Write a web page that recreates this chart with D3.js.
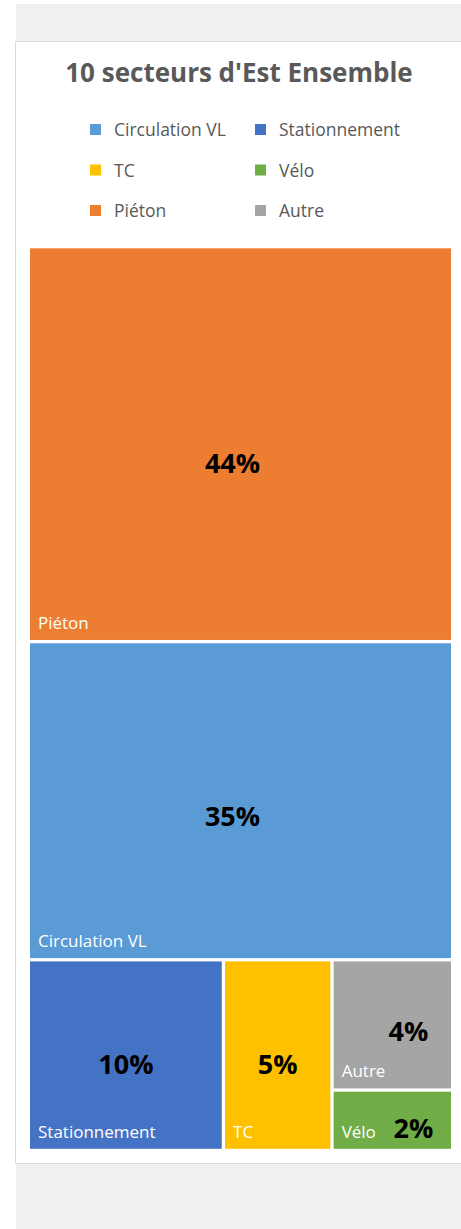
<!DOCTYPE html>
<html>
<head>
<meta charset="utf-8">
<script src="https://cdn.jsdelivr.net/npm/d3@7"></script>
<style>
  body { margin: 0; background: #fff; }
  text { font-family: "Open Sans", sans-serif; }
</style>
</head>
<body>
<div id="chart"></div>
<script>
// data (share of remarks, %)
var categories = ['Circulation VL', 'Stationnement', 'TC', 'Vélo', 'Piéton', 'Autre'];
var values = [35.2, 9.7, 5.4, 1.9, 43.7, 4.1];
var colors = ['#5B9BD5', '#4472C4', '#FFC000', '#70AD47', '#ED7D31', '#A5A5A5'];
var title = "10 secteurs d'Est Ensemble";

var width = 461;
var height = 1229;

var svg = d3.select('#chart')
    .append('svg')
    .attr('width', width)
    .attr('height', height);

// grey page bands + chart frame
svg.append('rect')
    .attr('x', 16).attr('y', 4)
    .attr('width', width - 16).attr('height', 37)
    .attr('fill', '#f0f0f0');
svg.append('rect')
    .attr('x', 16).attr('y', 1164)
    .attr('width', width - 16).attr('height', height - 1164)
    .attr('fill', '#f0f0f0');
svg.append('rect')
    .attr('x', 15.5).attr('y', 41.5)
    .attr('width', width).attr('height', 1122)
    .attr('fill', '#fff')
    .attr('stroke', '#d9d9d9');

// title
svg.append('text')
    .attr('x', 239)
    .attr('y', 82)
    .attr('text-anchor', 'middle')
    .attr('font-size', 26)
    .attr('font-weight', 'bold')
    .attr('fill', '#595959')
    .text(title);

// legend (2 columns)
var legend = svg.append('g').selectAll('g')
    .data(categories)
    .enter()
    .append('g')
    .attr('transform', function(d, i) {
      return 'translate(' + (i % 2 === 0 ? 90 : 255) + ',' + (130 + Math.floor(i / 2) * 40.5) + ')';
    });
legend.append('rect')
    .attr('x', 0)
    .attr('y', -6)
    .attr('width', 11)
    .attr('height', 11)
    .attr('fill', function(d, i) { return colors[i]; });
legend.append('text')
    .attr('x', 24)
    .attr('y', 6)
    .attr('font-size', 17.5)
    .attr('fill', '#595959')
    .text(function(d) { return d; });

// treemap
var items = categories.map(function(c, i) {
  return { name: c, value: values[i], color: colors[i] };
});
var root = d3.hierarchy({ children: items })
    .sum(function(d) { return d.value || 0; })
    .sort(function(a, b) { return b.value - a.value; });

d3.treemap()
    .size([421, 900.5])
    .paddingInner(3.3)
    .tile(d3.treemapSquarify.ratio(1))(root);

var tm = svg.append('g')
    .attr('transform', 'translate(30,248.3)');

var cell = tm.selectAll('g')
    .data(root.leaves())
    .enter()
    .append('g');

cell.append('rect')
    .attr('x', function(d) { return d.x0; })
    .attr('y', function(d) { return d.y0; })
    .attr('width', function(d) { return d.x1 - d.x0; })
    .attr('height', function(d) { return d.y1 - d.y0; })
    .attr('fill', function(d) { return d.data.color; });

// category name, bottom left
cell.append('text')
    .attr('x', function(d) { return d.x0 + 8; })
    .attr('y', function(d) { return d.y1 - 11; })
    .attr('font-size', 17)
    .attr('fill', '#fff')
    .text(function(d) { return d.data.name; });

// percentage
cell.append('text')
    .attr('x', function(d) {
      var w = d.x1 - d.x0, h = d.y1 - d.y0;
      if (h < 80) return d.x0 + w * 0.68;
      return d.x0 + w / 2 + (w < 150 && h < 150 ? 16 : 0) - (w > 400 ? 8 : 0);
    })
    .attr('y', function(d) {
      var h = d.y1 - d.y0;
      return h < 80 ? d.y1 - 11 : d.y0 + h * 0.55;
    })
    .attr('dy', function(d) { return (d.y1 - d.y0) < 80 ? 0 : '0.36em'; })
    .attr('text-anchor', 'middle')
    .attr('font-size', 27)
    .attr('font-weight', 'bold')
    .attr('fill', '#000')
    .text(function(d) { return Math.round(d.value) + '%'; });
</script>
</body>
</html>
